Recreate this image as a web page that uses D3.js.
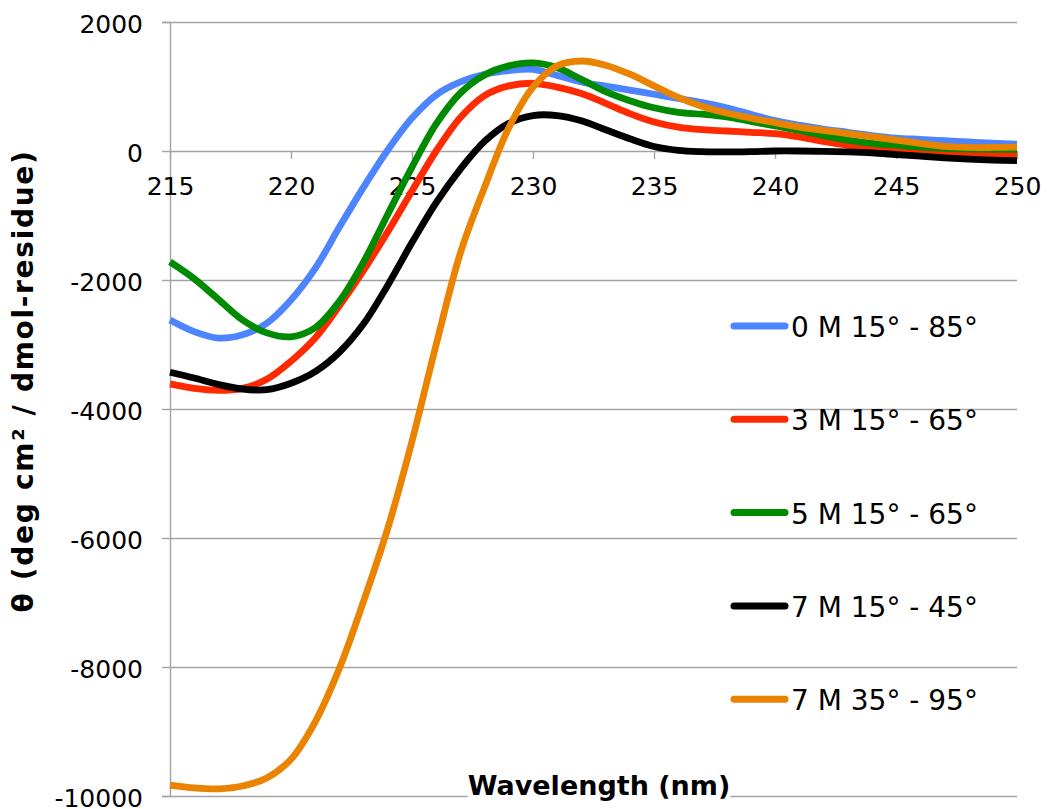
<!DOCTYPE html>
<html>
<head>
<meta charset="utf-8">
<script src="https://cdn.jsdelivr.net/npm/d3@7"></script>
<style>
  html, body { margin: 0; padding: 0; background: #ffffff; }
  svg { display: block; font-family: "DejaVu Sans", Verdana, sans-serif; }
</style>
</head>
<body>
<svg id="chart" width="1047" height="809"></svg>
<script>
// Wavelength grid (nm)
const wavelengths = [215, 216, 217, 218, 219, 220, 221, 222, 223, 224, 225, 226,
  227, 228, 229, 230, 231, 232, 233, 234, 235, 236, 237, 238,
  239, 240, 241, 242, 243, 244, 245, 246, 247, 248, 249, 250];

// Mean residue ellipticity for each condition
const urea0_15_85 = [-2620, -2800, -2900, -2850, -2670, -2310, -1820, -1180, -560, 15, 510, 870,
  1070, 1190, 1245, 1265, 1170, 1070, 1005, 945, 880, 815, 750, 670,
  570, 470, 400, 340, 290, 240, 200, 180, 160, 140, 120, 105];
const urea3_15_65 = [-3610, -3680, -3710, -3680, -3540, -3260, -2900, -2400, -1850, -1250, -620, 0,
  520, 860, 1010, 1050, 990, 890, 740, 580, 450, 370, 330, 310,
  290, 270, 220, 150, 90, 40, 10, -10, -20, -30, -40, -45];
const urea5_15_65 = [-1720, -1980, -2300, -2620, -2820, -2880, -2740, -2330, -1720, -980, -250, 420,
  900, 1180, 1320, 1365, 1290, 1110, 920, 780, 670, 600, 570, 530,
  460, 390, 320, 240, 170, 120, 90, 60, 40, 30, 25, 25];
const urea7_15_45 = [-3430, -3520, -3620, -3690, -3700, -3600, -3420, -3120, -2680, -2080, -1420, -800,
  -280, 150, 430, 550, 550, 470, 330, 190, 70, 10, -10, -15,
  -10, 0, 0, -5, -15, -30, -55, -80, -105, -125, -140, -150];
const urea7_35_95 = [-9830, -9875, -9890, -9845, -9720, -9430, -8850, -8020, -6980, -5850, -4500, -3000,
  -1580, -560, 360, 990, 1320, 1395, 1330, 1190, 1010, 830, 690, 590,
  510, 440, 370, 320, 270, 220, 170, 120, 70, 55, 55, 60];

const seriesNames = ["0 M 15\u00B0 - 85\u00B0", "3 M 15\u00B0 - 65\u00B0", "5 M 15\u00B0 - 65\u00B0",
  "7 M 15\u00B0 - 45\u00B0", "7 M 35\u00B0 - 95\u00B0"];
const seriesValues = [urea0_15_85, urea3_15_65, urea5_15_65, urea7_15_45, urea7_35_95];
const seriesColors = ["#4d84ff", "#ff2a00", "#008a00", "#000000", "#e98300"];

const xTicks = [215, 220, 225, 230, 235, 240, 245, 250];
const yTicks = [-10000, -8000, -6000, -4000, -2000, 0, 2000];

const svg = d3.select("#chart");
const plotLeft = 170, plotRight = 1017, plotTop = 22, plotBottom = 796;
const gridColor = "#a3a3a3";

const x = d3.scaleLinear().domain([215, 250]).range([plotLeft, plotRight]);
const y = d3.scaleLinear().domain([-10000, 2000]).range([plotBottom, plotTop]);

// Horizontal gridlines
svg.append("g")
  .attr("transform", `translate(${plotLeft},0)`)
  .call(d3.axisLeft(y).tickValues(yTicks).tickSize(-(plotRight - plotLeft)).tickFormat(""))
  .call(g => g.select(".domain").remove())
  .call(g => g.selectAll("line").attr("stroke", gridColor).attr("stroke-width", 1.4));

// Y axis with outward ticks and labels (plain hyphen for negatives)
svg.append("g")
  .attr("transform", `translate(${plotLeft},0)`)
  .call(d3.axisLeft(y).tickValues(yTicks).tickSize(8).tickPadding(19).tickFormat(d => String(d)))
  .call(g => g.select(".domain").attr("stroke", gridColor).attr("stroke-width", 1.4))
  .call(g => g.selectAll("line").attr("stroke", gridColor).attr("stroke-width", 1.4))
  .call(g => g.selectAll("text").attr("font-size", 25).attr("fill", "#000")
    .attr("font-family", "DejaVu Sans").attr("dy", "0.4em"));

// X axis crossing at zero
svg.append("g")
  .attr("transform", `translate(0,${y(0)})`)
  .call(d3.axisBottom(x).tickValues(xTicks).tickSize(8).tickPadding(18))
  .call(g => g.select(".domain").remove())
  .call(g => g.selectAll("line").attr("stroke", gridColor).attr("stroke-width", 1.4))
  .call(g => g.selectAll("text").attr("font-size", 25).attr("fill", "#000")
    .attr("font-family", "DejaVu Sans"));

// Smoothed curves, one per condition
const line = d3.line()
  .x((d, i) => x(wavelengths[i]))
  .y(d => y(d))
  .curve(d3.curveCatmullRom.alpha(0.5));

svg.append("g").selectAll("path")
  .data(seriesValues)
  .join("path")
  .attr("d", line)
  .attr("fill", "none")
  .attr("stroke", (d, i) => seriesColors[i])
  .attr("stroke-width", 6.8)
  .attr("stroke-linejoin", "round")
  .attr("stroke-linecap", "butt");

// Legend
const legend = svg.append("g");
const legendRows = legend.selectAll("g")
  .data(seriesNames)
  .join("g")
  .attr("transform", (d, i) => `translate(0,${326 + i * 93.3})`);
legendRows.append("line")
  .attr("x1", 734).attr("x2", 785)
  .attr("stroke", (d, i) => seriesColors[i])
  .attr("stroke-width", 7)
  .attr("stroke-linecap", "round");
legendRows.append("text")
  .attr("x", 791).attr("y", 11)
  .attr("font-size", 28)
  .attr("fill", "#000")
  .text(d => d);

// Axis titles
const xTitle = svg.append("g");
const xTitleText = xTitle.append("text")
  .attr("x", 599).attr("y", 795)
  .attr("text-anchor", "middle")
  .attr("font-size", 27)
  .attr("font-weight", "bold")
  .text("Wavelength (nm)");
const bb = xTitleText.node().getBBox();
xTitle.insert("rect", "text")
  .attr("x", bb.x).attr("y", bb.y)
  .attr("width", bb.width).attr("height", bb.height)
  .attr("fill", "#ffffff");

svg.append("text")
  .attr("transform", "translate(33,381) rotate(-90)")
  .attr("text-anchor", "middle")
  .attr("font-size", 28)
  .attr("font-weight", "bold")
  .attr("letter-spacing", 1.7)
  .text("\u03B8 (deg cm\u00B2 / dmol-residue)");
</script>
</body>
</html>
